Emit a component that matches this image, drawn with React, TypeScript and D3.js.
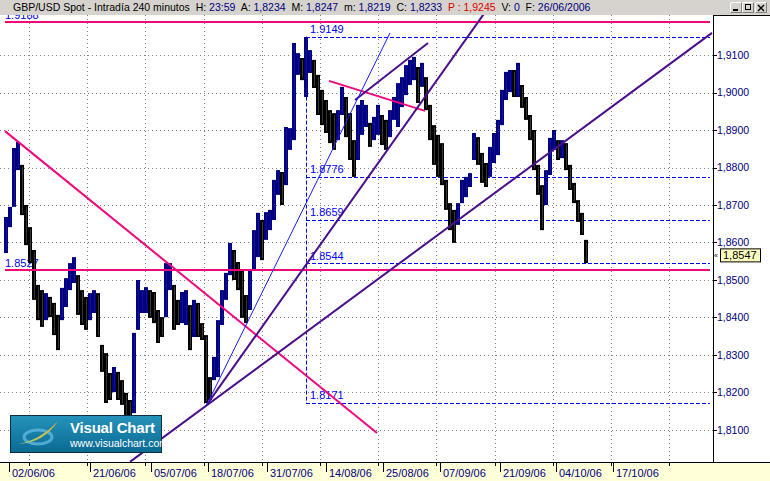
import React from 'react';
import * as d3 from 'd3';

// ---- price data (4h bars, one sample every 4 bars): highs / lows ----
const highs = [
  1.8668, 1.8695, 1.8852, 1.8868, 1.8807, 1.8700, 1.8641, 1.8580, 1.8487, 1.8473,
  1.8465, 1.8455, 1.8439, 1.8407, 1.8479, 1.8505, 1.8545, 1.8561, 1.8513, 1.8473,
  1.8455, 1.8465, 1.8473, 1.8465, 1.8327, 1.8305, 1.8252, 1.8268, 1.8255, 1.8233,
  1.8199, 1.8180, 1.8359, 1.8500, 1.8473, 1.8481, 1.8473, 1.8468, 1.8420, 1.8401,
  1.8545, 1.8545, 1.8487, 1.8447, 1.8468, 1.8473, 1.8433, 1.8447, 1.8439, 1.8385,
  1.8353, 1.8241, 1.8295, 1.8393, 1.8473, 1.8519, 1.8599, 1.8580, 1.8548, 1.8527,
  1.8460, 1.8527, 1.8633, 1.8679, 1.8660, 1.8681, 1.8687, 1.8767, 1.8793, 1.8788,
  1.8908, 1.8905, 1.9132, 1.9105, 1.9092, 1.9148, 1.9113, 1.9087, 1.9047, 1.9007,
  1.8980, 1.8953, 1.8945, 1.8953, 1.9015, 1.8988, 1.8945, 1.8873, 1.8967, 1.8980,
  1.8967, 1.8919, 1.8935, 1.8967, 1.8940, 1.8927, 1.8953, 1.8988, 1.9025, 1.9041,
  1.9073, 1.9087, 1.9095, 1.9068, 1.9079, 1.9041, 1.8967, 1.8913, 1.8887, 1.8865,
  1.8767, 1.8705, 1.8687, 1.8705, 1.8767, 1.8775, 1.8785, 1.8892, 1.8881, 1.8839,
  1.8812, 1.8855, 1.8892, 1.8927, 1.9007, 1.9055, 1.9060, 1.9060, 1.9079, 1.9020,
  1.8988, 1.8940, 1.8900, 1.8807, 1.8753, 1.8793, 1.8879, 1.8900, 1.8873, 1.8873,
  1.8865, 1.8807, 1.8759, 1.8713, 1.8679, 1.8607,
];
const lows = [
  1.8572, 1.8641, 1.8695, 1.8793, 1.8673, 1.8593, 1.8545, 1.8447, 1.8393, 1.8375,
  1.8393, 1.8401, 1.8353, 1.8313, 1.8393, 1.8428, 1.8473, 1.8492, 1.8407, 1.8380,
  1.8367, 1.8393, 1.8412, 1.8348, 1.8255, 1.8172, 1.8180, 1.8201, 1.8180, 1.8167,
  1.8132, 1.8105, 1.8145, 1.8367, 1.8412, 1.8412, 1.8399, 1.8385, 1.8332, 1.8348,
  1.8401, 1.8473, 1.8367, 1.8380, 1.8385, 1.8380, 1.8313, 1.8348, 1.8348, 1.8340,
  1.8172, 1.8180, 1.8233, 1.8241, 1.8380, 1.8447, 1.8513, 1.8500, 1.8473, 1.8399,
  1.8385, 1.8420, 1.8527, 1.8561, 1.8553, 1.8607, 1.8633, 1.8660, 1.8727, 1.8700,
  1.8753, 1.8847, 1.8873, 1.9047, 1.9033, 1.8988, 1.9052, 1.9012, 1.8940, 1.8913,
  1.8892, 1.8865, 1.8847, 1.8873, 1.8940, 1.8881, 1.8820, 1.8775, 1.8820, 1.8887,
  1.8908, 1.8855, 1.8873, 1.8887, 1.8860, 1.8847, 1.8881, 1.8927, 1.8908, 1.8961,
  1.8993, 1.9020, 1.9033, 1.8972, 1.9015, 1.8953, 1.8873, 1.8807, 1.8775, 1.8753,
  1.8687, 1.8633, 1.8599, 1.8647, 1.8705, 1.8721, 1.8748, 1.8820, 1.8807, 1.8759,
  1.8748, 1.8775, 1.8812, 1.8833, 1.8913, 1.8980, 1.9001, 1.8988, 1.8988, 1.8959,
  1.8927, 1.8873, 1.8793, 1.8727, 1.8633, 1.8700, 1.8780, 1.8847, 1.8820, 1.8825,
  1.8793, 1.8740, 1.8705, 1.8655, 1.8620, 1.8545,
];
const barsPerSample = 4;
const lastPrice = 1.8547;

// ---- axes ----
const priceTicks = [1.91, 1.90, 1.89, 1.88, 1.87, 1.86, 1.85, 1.84, 1.83, 1.82, 1.81];
const priceTickLabels = ['1,9100', '1,9000', '1,8900', '1,8800', '1,8700', '1,8600', '1,8500', '1,8400', '1,8300', '1,8200', '1,8100'];
const dateLabels = ['02/06/06', '21/06/06', '05/07/06', '18/07/06', '31/07/06', '14/08/06', '25/08/06', '07/09/06', '21/09/06', '04/10/06', '17/10/06'];
const dateBars = [3, 84, 145, 202, 261, 320, 377, 434, 494, 550, 607];
const gridStartBar = 23;
const gridStepBars = 58.2;

// ---- studies ----
const fibLevels = [1.9149, 1.8776, 1.8659, 1.8544, 1.8171];
const fibLabels = ['1.9149', '1.8776', '1.8659', '1.8544', '1.8171'];
const fibStartBar = 300;
const studyEndBar = 704;
const levelPrices = [1.9188, 1.8527];
const levelLabels = ['1.9188', '1.8527'];
// trend lines: [bar1, price1, bar2, price2]
const pinkTrends = [
  [-1, 1.8897, 371, 1.8092],
  [323, 1.9031, 419, 1.8951],
];
const purpleTrends = [
  [349, 1.8980, 422, 1.9132],
  [200.7, 1.8167, 491, 1.9259],
  [124, 1.8015, 706, 1.9159],
];
const thinTrends = [
  [200.7, 1.8167, 384, 1.9159],
];

// ---- header ----
const headerTitle = 'GBP/USD Spot - Intradía 240 minutos';
const headerKeys = ['H:', 'A:', 'M:', 'm:', 'C:', 'P :', 'V:', 'F:'];
const headerValues = ['23:59', '1,8234', '1,8247', '1,8219', '1,8233', '1,9245', '0', '26/06/2006'];

export default function App() {
  const W = 770;
  const H = 481;
  const plotRight = 713;
  const plotTop = 15;
  const plotBottom = 462;
  const x = d3.scaleLinear().domain([0, 700]).range([6, 706]);
  const y = d3.scaleLinear().domain([1.81, 1.91]).range([430, 55]);

  const samples = highs.map((h, i) => ({ bar: i * barsPerSample, high: h, low: lows[i] }));
  const gridBars = d3.range(gridStartBar, 700, gridStepBars);

  const pink = '#F2067C';
  const purple = '#4A0E8C';
  const navy = '#000080';
  const fibBlue = '#0000FF';
  const font = "'Liberation Sans', Arial, sans-serif";

  const seg = (t: number[], i: number, color: string, w: number) => (
    <line key={i} x1={x(t[0])} y1={y(t[1])} x2={x(t[2])} y2={y(t[3])} stroke={color} strokeWidth={w} />
  );

  const lastY = y(lastPrice);
  const crisp = (v: number) => Math.round(v) + 0.5;

  return (
    <svg width={W} height={H} style={{ position: 'absolute', left: 0, top: 0, display: 'block' }} fontFamily={font}>
      <defs>
        <clipPath id="plotClip">
          <rect x={0} y={plotTop} width={plotRight} height={plotBottom - plotTop} />
        </clipPath>
        <linearGradient id="logoGrad" x1="0" y1="0" x2="0" y2="1">
          <stop offset="0" stopColor="#2493bb" />
          <stop offset="1" stopColor="#0b6a93" />
        </linearGradient>
        <linearGradient id="swoosh" x1="0" y1="1" x2="1" y2="0">
          <stop offset="0" stopColor="#9fd37a" />
          <stop offset="1" stopColor="#f6b021" />
        </linearGradient>
      </defs>
      <rect x={0} y={0} width={W} height={H} fill="#ffffff" />

      <g clipPath="url(#plotClip)">
        {/* grid */}
        {gridBars.map((b, i) => (
          <line key={'gv' + i} x1={crisp(x(b))} x2={crisp(x(b))} y1={plotTop} y2={plotBottom}
            stroke="#808080" strokeDasharray="1 3" />
        ))}
        {priceTicks.map((p, i) => (
          <line key={'gh' + i} x1={0} x2={plotRight} y1={crisp(y(p))} y2={crisp(y(p))}
            stroke="#808080" strokeDasharray="1 3" />
        ))}

        {/* fibonacci retracement */}
        <line x1={crisp(x(fibStartBar))} x2={crisp(x(fibStartBar))} y1={y(fibLevels[0])} y2={y(fibLevels[fibLevels.length - 1])}
          stroke={fibBlue} strokeDasharray="4 2" />
        {fibLevels.map((p, i) => (
          <g key={'fib' + i}>
            <line x1={x(fibStartBar)} x2={x(studyEndBar)} y1={crisp(y(p))} y2={crisp(y(p))}
              stroke={fibBlue} strokeDasharray="4 2" />
            <text x={x(fibStartBar) + 4} y={y(p) - 4} fontSize={11} fill={fibBlue}>{fibLabels[i]}</text>
          </g>
        ))}

        {levelPrices.map((p, i) => (
          <text key={'ll' + i} x={5} y={y(p) - 3} fontSize={11} fill={fibBlue}>{levelLabels[i]}</text>
        ))}

        {/* price bars */}
        {samples.map((s, i) => {
          const prev = i > 0 ? samples[i - 1] : s;
          const up = (s.high + s.low) >= (prev.high + prev.low);
          const y1 = y(s.high);
          const y2 = y(s.low);
          const cx = x(s.bar);
          return (
            <g key={'c' + i}>
              <rect x={cx - 2} y={y1} width={4} height={Math.max(1, y2 - y1)} fill={up ? navy : '#000000'} />
              <line x1={cx + 0.5} x2={cx + 0.5} y1={y1 + 2} y2={y2 - 2} stroke={up ? '#2a2ab0' : '#ffffff'} strokeWidth={0.6} opacity={up ? 0.6 : 0.35} />
            </g>
          );
        })}

        {/* horizontal levels */}
        {levelPrices.map((p, i) => (
          <line key={'lv' + i} x1={x(-1)} x2={x(studyEndBar)} y1={y(p)} y2={y(p)} stroke={pink} strokeWidth={2} />
        ))}

        {/* trend lines */}
        {pinkTrends.map((t, i) => seg(t, i, pink, 2))}
        {purpleTrends.map((t, i) => seg(t, i, purple, 2))}
        {thinTrends.map((t, i) => seg(t, i, '#1a1aff', 1))}
      </g>

      {/* right price axis */}
      <rect x={plotRight} y={plotTop} width={W - plotRight} height={plotBottom - plotTop} fill="#ffffff" />
      <line x1={plotRight + 0.5} x2={plotRight + 0.5} y1={plotTop} y2={plotBottom} stroke="#000" />
      <line x1={plotRight} x2={W} y1={plotTop + 0.5} y2={plotTop + 0.5} stroke="#000" />
      {priceTicks.map((p, i) => (
        <g key={'pt' + i}>
          <line x1={plotRight} x2={plotRight + 4} y1={crisp(y(p))} y2={crisp(y(p))} stroke="#000" />
          <text x={plotRight + 4} y={y(p) + 3.5} fontSize={10.5} fill={navy}>{priceTickLabels[i]}</text>
        </g>
      ))}
      <rect x={720.5} y={lastY - 13.5} width={40} height={13} fill="#FFFFC0" stroke="#000" />
      <text x={723} y={lastY - 3} fontSize={11} fill="#000">{d3.format('.4f')(lastPrice).replace('.', ',')}</text>
      <text x={714} y={lastY - 4} fontSize={7} fill="#000">«</text>

      {/* bottom date axis */}
      <rect x={0} y={plotBottom} width={W} height={H - plotBottom} fill="#FFFFD8" />
      <line x1={0} x2={W} y1={plotBottom + 0.5} y2={plotBottom + 0.5} stroke="#000" />
      {gridBars.map((b, i) => (
        <line key={'st' + i} x1={crisp(x(b))} x2={crisp(x(b))} y1={plotBottom} y2={plotBottom + 4} stroke="#000" />
      ))}
      {dateBars.map((b, i) => (
        <g key={'dt' + i}>
          <line x1={crisp(x(b))} x2={crisp(x(b))} y1={plotBottom} y2={plotBottom + 10} stroke="#000" />
          <text x={x(b) + 3} y={plotBottom + 15} fontSize={11} fill={navy}>{dateLabels[i]}</text>
        </g>
      ))}

      {/* logo */}
      <g>
        <rect x={10.5} y={415.5} width={151} height={37} fill="url(#logoGrad)" stroke="#0a2f45" />
        <ellipse cx={38} cy={437} rx={14} ry={7} fill="none" stroke="#5fb8e0" strokeWidth={3} opacity={0.8} />
        <path d="M18,444 C30,442 44,436 58,421 C48,436 36,443 18,444 Z" fill="url(#swoosh)" />
        <text x={70} y={433} fontSize={15} fill="#ffffff" fontWeight="bold" style={{ letterSpacing: '-0.2px' }}>Visual Chart</text>
        <text x={70} y={447} fontSize={10.5} fill="#ffffff">www.visualchart.com</text>
      </g>

      {/* title bar */}
      <rect x={0} y={0} width={W} height={plotTop} fill="#D6D3CE" />
      <text x={13} y={11} fontSize={10.5} fill="#000" xmlSpace="preserve" style={{ whiteSpace: 'pre' }}>
        <tspan>{headerTitle}</tspan>
        {headerKeys.map((k, i) => {
          const isP = k.startsWith('P');
          return (
            <React.Fragment key={'hk' + i}>
              <tspan fill={isP ? '#E00000' : '#000'}>{'  ' + k + ' '}</tspan>
              <tspan fill={isP ? '#E00000' : navy}>{headerValues[i]}</tspan>
            </React.Fragment>
          );
        })}
      </text>
      {[730, 742, 755].map((bx, i) => (
        <g key={'btn' + i}>
          <rect x={bx + 0.5} y={2.5} width={11} height={10} fill="#D6D3CE" stroke="#808080" />
          <line x1={bx + 0.5} x2={bx + 11.5} y1={2.5} y2={2.5} stroke="#fff" />
          <line x1={bx + 0.5} x2={bx + 0.5} y1={2.5} y2={12.5} stroke="#fff" />
          {i === 0 && <line x1={bx + 3} x2={bx + 8} y1={10} y2={10} stroke="#000" strokeWidth={2} />}
          {i === 1 && <rect x={bx + 3.5} y={4.5} width={5} height={5} fill="none" stroke="#000" />}
          {i === 2 && <path d={`M${bx + 3},${5} L${bx + 9},${11} M${bx + 9},${5} L${bx + 3},${11}`} stroke="#000" strokeWidth={1.4} />}
        </g>
      ))}
    </svg>
  );
}
